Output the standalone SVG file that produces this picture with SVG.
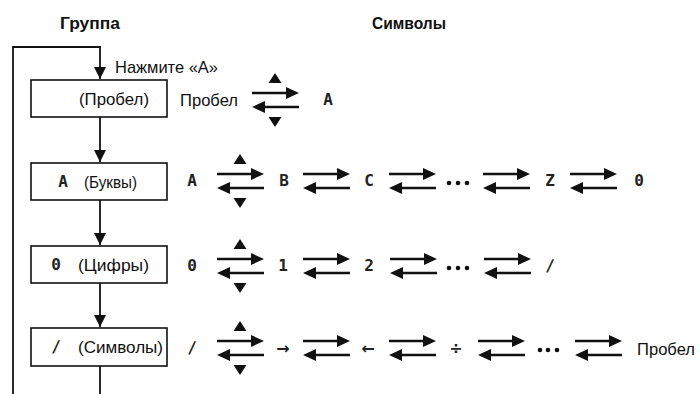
<svg xmlns="http://www.w3.org/2000/svg" xmlns:xlink="http://www.w3.org/1999/xlink" width="700" height="394" viewBox="0 0 700 394">
<style>
.t{font-family:"Liberation Sans",Arial,sans-serif;font-size:17px;fill:#111}
.h{font-family:"Liberation Sans",Arial,sans-serif;font-size:17px;font-weight:bold;fill:#111}
.lcd{font-family:"DejaVu Sans Mono",monospace;font-size:16px;font-weight:bold;fill:#222;text-anchor:middle}
.sym{font-family:"DejaVu Sans",sans-serif;font-size:16px;font-weight:bold;fill:#222;text-anchor:middle}
.box{fill:#fff;stroke:#111;stroke-width:1.6}
.ln{fill:none;stroke:#111;stroke-width:1.8}
.ar{fill:none;stroke:#111;stroke-width:2.6}
.hd{fill:#111}
</style>
<defs>
<g id="pair">
<line class="ar" x1="0" y1="-7" x2="37" y2="-7"/>
<polygon class="hd" points="47,-7 34,-13 34,-1"/>
<line class="ar" x1="10" y1="7" x2="47" y2="7"/>
<polygon class="hd" points="0,7 13,1 13,13"/>
</g>
<g id="tri">
<polygon class="hd" points="23,-27 16.5,-17 29.5,-17"/>
<polygon class="hd" points="23,27 16.5,17 29.5,17"/>
</g>
<marker id="down" markerWidth="12" markerHeight="12" refX="12" refY="6" orient="auto" markerUnits="userSpaceOnUse" viewBox="0 0 12 12">
<polygon points="0,0 12,6 0,12" fill="#111"/>
</marker>
</defs>

<text class="h" x="60" y="29" textLength="60" lengthAdjust="spacingAndGlyphs">Группа</text>
<text class="h" x="372" y="29" textLength="74" lengthAdjust="spacingAndGlyphs">Символы</text>

<g id="connectors">
<polyline class="ln" points="13,394 13,47 100,47 100,79" marker-end="url(#down)"/>
<line class="ln" x1="100" y1="117" x2="100" y2="162" marker-end="url(#down)"/>
<line class="ln" x1="100" y1="200" x2="100" y2="245" marker-end="url(#down)"/>
<line class="ln" x1="100" y1="283" x2="100" y2="327" marker-end="url(#down)"/>
<line class="ln" x1="100" y1="366" x2="100" y2="394"/>
</g>
<text class="t" x="115" y="73" textLength="103" lengthAdjust="spacingAndGlyphs">Нажмите «А»</text>

<g id="n1">
<rect class="box" x="31" y="80" width="136" height="37"/>
<text class="t" x="79" y="105" textLength="70" lengthAdjust="spacingAndGlyphs">(Пробел)</text>
</g>
<g id="n2">
<rect class="box" x="31" y="163" width="136" height="37"/>
<text class="lcd" x="63" y="187">A</text>
<text class="t" x="84" y="188" textLength="53" lengthAdjust="spacingAndGlyphs">(Буквы)</text>
</g>
<g id="n3">
<rect class="box" x="31" y="246" width="136" height="37"/>
<text class="lcd" x="56" y="270">0</text>
<text class="t" x="78" y="271" textLength="71" lengthAdjust="spacingAndGlyphs">(Цифры)</text>
</g>
<g id="n4">
<rect class="box" x="31" y="328" width="136" height="38"/>
<text class="lcd" x="56" y="352">∕</text>
<text class="t" x="78" y="353" textLength="85" lengthAdjust="spacingAndGlyphs">(Символы)</text>
</g>

<g id="row1">
<text class="t" x="180" y="106" textLength="58" lengthAdjust="spacingAndGlyphs">Пробел</text>
<use xlink:href="#pair" x="252" y="100"/>
<use xlink:href="#tri" x="252" y="100"/>
<text class="lcd" x="328" y="105">A</text>
</g>

<g id="row2">
<text class="lcd" x="192" y="186">A</text>
<use xlink:href="#pair" x="217" y="181"/>
<use xlink:href="#tri" x="217" y="181"/>
<text class="lcd" x="284" y="186">B</text>
<use xlink:href="#pair" x="303" y="181"/>
<text class="lcd" x="369" y="186">C</text>
<use xlink:href="#pair" x="389" y="181"/>
<circle class="hd" cx="449" cy="183" r="2.3"/><circle class="hd" cx="458" cy="183" r="2.3"/><circle class="hd" cx="467" cy="183" r="2.3"/>
<use xlink:href="#pair" x="483" y="181"/>
<text class="lcd" x="550" y="186">Z</text>
<use xlink:href="#pair" x="570" y="181"/>
<text class="lcd" x="639" y="186">0</text>
</g>

<g id="row3">
<text class="lcd" x="192" y="271">0</text>
<use xlink:href="#pair" x="217" y="266"/>
<use xlink:href="#tri" x="217" y="266"/>
<text class="lcd" x="283" y="271">1</text>
<use xlink:href="#pair" x="303" y="266"/>
<text class="lcd" x="369" y="271">2</text>
<use xlink:href="#pair" x="390" y="266"/>
<circle class="hd" cx="449" cy="268" r="2.3"/><circle class="hd" cx="458" cy="268" r="2.3"/><circle class="hd" cx="467" cy="268" r="2.3"/>
<use xlink:href="#pair" x="484" y="266"/>
<text class="lcd" x="550" y="271">∕</text>
</g>

<g id="row4">
<text class="lcd" x="192" y="353">∕</text>
<use xlink:href="#pair" x="217" y="348"/>
<use xlink:href="#tri" x="217" y="348"/>
<text class="sym" x="283" y="354">→</text>
<use xlink:href="#pair" x="303" y="348"/>
<text class="sym" x="368" y="354">←</text>
<use xlink:href="#pair" x="389" y="348"/>
<text class="sym" x="456" y="354">÷</text>
<use xlink:href="#pair" x="478" y="348"/>
<circle class="hd" cx="540" cy="350" r="2.3"/><circle class="hd" cx="548" cy="350" r="2.3"/><circle class="hd" cx="557" cy="350" r="2.3"/>
<use xlink:href="#pair" x="575" y="348"/>
<text class="t" x="637" y="355" textLength="58" lengthAdjust="spacingAndGlyphs">Пробел</text>
</g>
</svg>
